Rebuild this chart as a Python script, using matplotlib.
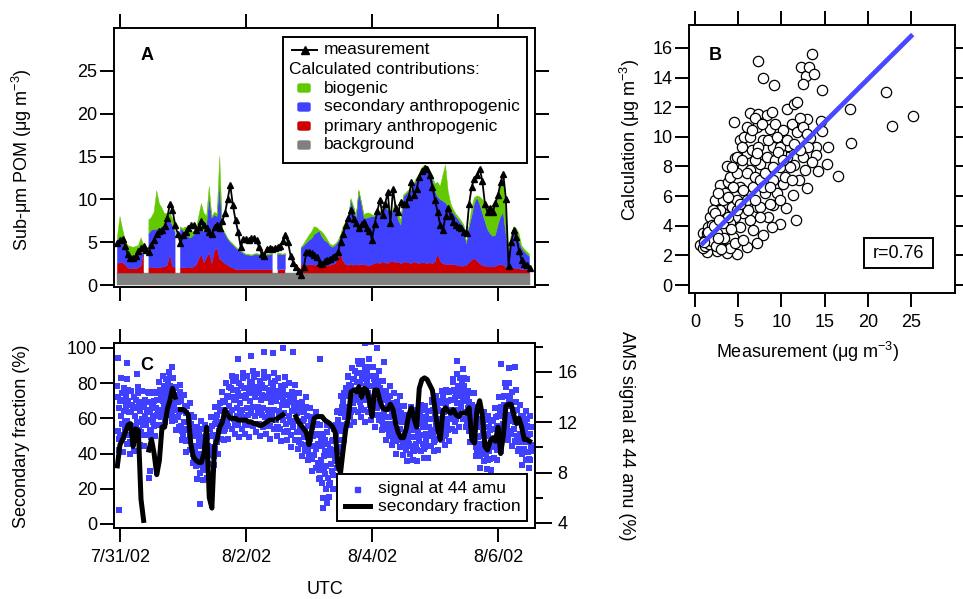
import numpy as np
import pandas as pd
import matplotlib
matplotlib.use("Agg")
import matplotlib.pyplot as plt
from matplotlib.patches import Rectangle, FancyBboxPatch
from matplotlib.lines import Line2D

plt.rcParams['font.family'] = ['Liberation Sans', 'DejaVu Sans']
plt.rcParams['mathtext.fontset'] = 'custom'
plt.rcParams['mathtext.rm'] = 'Liberation Sans'
plt.rcParams['mathtext.it'] = 'Liberation Sans:italic'
plt.rcParams['mathtext.default'] = 'regular'

nan = np.nan

# ---------------- data ----------------
# hourly series, first value at 7/30/02 23:00 UTC
hours = pd.date_range('2002-07-30 23:00', periods=158, freq='h')

measurement = [
    4.9, 5.2, 5.4, 4.5, 3.6, 3.1, 3.2, 3.4, 4.0, 4.3,
    4.6, 4.1, 3.9, 4.7, 5.3, 6.0, 6.3, 6.4, 6.9, 7.8,
    9.5, 8.8, 7.0, 6.0, 4.9, 5.8, 6.2, 6.6, 7.0, 7.0,
    6.4, 6.8, 7.5, 7.0, 6.6, 6.2, 5.9, 6.8, 7.0, 6.6,
    7.5, 8.4, 10.0, 11.7, 9.3, 7.6, 6.2, 4.4, 5.4, 5.4,
    5.3, 5.5, 5.5, 5.2, 4.4, 3.6, 3.4, 4.2, 4.3, 4.2,
    4.3, 4.4, 4.5, 5.1, 5.8, 5.0, 3.4, 2.6, 2.1, 1.6,
    1.2, 2.1, 3.8, 3.8, 3.7, 3.5, 3.3, 2.6, 2.5, 2.8,
    2.9, 3.0, 3.3, 3.4, 3.8, 5.0, 6.0, 7.0, 7.8, 8.8,
    7.7, 7.2, 6.6, 7.1, 7.4, 6.6, 6.3, 5.3, 7.1, 8.6,
    9.9, 8.2, 9.5, 10.8, 7.2, 11.2, 9.0, 8.5, 9.7, 9.4,
    9.5, 10.3, 12.0, 10.5, 11.2, 12.6, 13.3, 13.7, 13.5, 12.8,
    11.5, 9.9, 8.5, 7.0, 6.4, 8.0, 9.0, 8.0, 7.4, 7.0,
    6.8, 6.6, 6.2, 6.1, 9.5, 11.5, 12.4, 12.8, 13.6, 12.2,
    9.5, 8.5, 9.0, 8.5, 9.6, 10.5, 12.0, 13.0, 10.0, 2.2,
    5.0, 6.4, 5.6, 4.0, 2.9, 2.5, 2.3, 2.0,
]

background = [1.4] * 158

primary = [
    1.1, 1.2, 1.2, 1.0, 0.6, 0.5, 0.5, 0.5, 0.6, 0.8,
    2.3, nan, 0.6, 0.7, 0.6, 0.6, 0.6, 0.7, 0.7, 0.9,
    2.2, 0.8, 0.6, nan, 0.6, 0.6, 0.6, 0.7, 0.6, 0.7,
    0.9, 1.6, 2.2, 1.2, 1.8, 2.4, 1.1, 2.6, 2.9, 1.6,
    1.4, 1.1, 0.9, 0.7, 0.6, 0.4, 0.4, 0.4, 0.4, 0.4,
    0.4, 0.4, 0.4, 0.4, 0.4, 0.4, 0.4, 0.4, 0.4, 0.4,
    nan, 0.4, 0.4, 0.4, 0.4, nan, nan, nan, nan, nan,
    0.9, 1.0, 0.9, 1.0, 1.0, 0.9, 1.0, 0.9, 1.0, 1.0,
    0.9, 0.9, 1.0, 1.1, 1.6, 2.3, 1.4, 1.0, 0.9, 1.0,
    0.9, 1.0, 0.9, 1.0, 1.0, 0.9, 0.8, 1.0, 1.1, 1.2,
    1.1, 1.3, 1.2, 1.1, 1.3, 1.4, 1.2, 1.3, 1.1, 1.2,
    1.3, 1.2, 1.1, 1.3, 1.2, 1.1, 1.2, 1.2, 1.1, 1.2,
    1.1, 1.3, 2.3, 1.4, 1.1, 1.0, 1.0, 1.0, 1.0, 0.9,
    0.9, 0.8, 0.8, 0.9, 1.2, 1.5, 1.7, 1.4, 1.1, 0.9,
    0.8, 0.8, 0.7, 0.7, 0.8, 0.9, 1.0, 0.9, 0.7, 0.6,
    0.6, 0.6, 0.5, 0.5, 0.4, 0.4, 0.4, 0.4,
]

secondary = [
    2.8, 2.8, 2.4, 1.9, 1.5, 1.4, 1.5, 1.6, 1.6, 1.5,
    0.2, nan, 4.0, 4.3, 4.5, 4.5, 4.6, 4.7, 4.9, 5.3,
    3.9, 4.8, 4.2, nan, 4.6, 4.4, 4.0, 3.5, 3.5, 3.7,
    3.9, 3.3, 2.9, 3.6, 3.8, 6.5, 5.3, 4.2, 3.7, 8.9,
    3.7, 3.5, 3.1, 2.9, 2.7, 2.6, 2.3, 2.1, 1.9, 1.7,
    1.7, 1.6, 1.7, 1.8, 1.7, 1.7, 1.6, 1.7, 1.7, 1.8,
    nan, 1.8, 1.8, 1.7, 1.8, nan, nan, nan, nan, nan,
    2.0, 2.2, 2.6, 2.8, 3.0, 3.6, 3.7, 4.0, 3.2, 2.8,
    2.7, 2.3, 2.0, 2.1, 2.0, 1.9, 3.8, 4.8, 5.3, 7.5,
    6.7, 5.5, 8.6, 7.1, 5.4, 5.5, 5.7, 5.6, 5.5, 5.6,
    5.9, 6.1, 6.6, 6.3, 5.7, 5.8, 7.0, 4.9, 4.5, 7.7,
    7.9, 8.3, 8.6, 9.0, 9.7, 10.3, 10.9, 11.2, 11.1, 10.4,
    10.0, 8.3, 6.6, 7.2, 7.3, 7.2, 6.8, 6.4, 6.0, 5.7,
    5.3, 5.0, 4.6, 2.5, 4.2, 5.1, 6.4, 7.4, 7.0, 6.2,
    5.3, 4.3, 3.9, 3.6, 3.6, 4.7, 5.6, 6.2, 3.9, 1.8,
    3.2, 4.2, 4.1, 3.3, 2.5, 2.1, 1.8, 1.5,
]

biogenic = [
    0.2, 2.6, 1.5, 1.0, 1.1, 1.2, 1.0, 1.0, 1.0, 1.8,
    0.8, nan, 1.6, 1.5, 2.0, 4.5, 2.9, 2.2, 1.3, 0.8,
    0.9, 0.8, 0.8, nan, 0.2, 0.2, 0.8, 1.0, 0.9, 0.4,
    0.2, 1.7, 3.0, 2.2, 1.0, 1.2, 0.2, 0.3, 0.3, 3.1,
    0.1, 0.1, 0.1, 0.1, 0.1, 0.1, 0.1, 0.1, 0.1, 0.1,
    0.1, 0.1, 0.1, 0.1, 0.1, 0.1, 0.1, 0.1, 0.1, 0.1,
    nan, 0.1, 0.1, 0.1, 0.1, nan, nan, nan, nan, nan,
    0.1, 0.2, 0.4, 0.6, 0.8, 0.9, 0.6, 0.1, 0.6, 0.6,
    0.3, 0.2, 0.2, 0.2, 0.1, 0.2, 0.2, 0.2, 0.2, 0.2,
    0.2, 0.2, 0.2, 0.2, 0.4, 0.6, 0.5, 0.2, 0.1, 0.1,
    0.1, 0.1, 0.2, 0.2, 0.2, 0.1, 0.1, 0.6, 0.6, 0.2,
    0.2, 0.2, 0.2, 0.2, 0.2, 0.2, 0.2, 0.2, 0.2, 0.3,
    0.3, 0.8, 1.7, 1.5, 3.0, 4.4, 1.8, 0.7, 0.4, 0.3,
    0.3, 0.3, 0.2, 0.1, 0.2, 1.0, 0.7, 0.2, 0.8, 1.5,
    2.1, 2.8, 3.1, 3.5, 3.8, 3.5, 3.8, 4.0, 2.5, 0.2,
    0.6, 0.6, 0.6, 0.8, 0.3, 0.3, 0.3, 0.3,
]

# secondary fraction of calculated POM (%), hourly
sec_fraction = [
    33, 45, 48, 52, 56, 57, 44, 54, 53, 14,
    2, nan, 42, 48, 40, 28, 36, 55, 55, 65,
    70, 77, 72, nan, 65, 65, 64, 62, 45, 38,
    36, 35, 35, 40, 55, 15, 9, 44, 48, 55,
    58, 65, 62, 60, 60, 60, 59, 59, 59, 59,
    58, 58, 57, 57, 56, 56, 57, 58, 59, 59,
    nan, 60, 61, 62, nan, nan, nan, nan, 61, 58,
    56, 54, 52, 45, 53, 60, 61, 61, 61, 59,
    58, 57, 55, 52, 33, 29, 42, 54, 60, 75,
    76, 75, 78, 72, 77, 76, 70, 61, 76, 76,
    70, 66, 65, 65, 68, 65, 57, 52, 49, 49,
    54, 62, 66, 60, 55, 77, 82, 83, 82, 79,
    76, 65, 54, 48, 64, 66, 64, 63, 65, 62,
    61, 63, 63, 63, 66, 48, 46, 65, 70, 62,
    44, 42, 47, 49, 47, 55, 40, 50, 67, 68,
    68, 62, 57, 60, 55, 48, 48, 47,
]

# AMS signal at m/z 44 (% of organic signal), 15-min samples from 7/30/02 23:00
signal44 = [
    14.9, 11.3, 13.1, 9.8, 11.0, 15.5, 12.5, 14.3, 13.8, 9.6, 14.7, 12.0,
    11.5, 14.2, 10.3, 15.4, 14.6, 11.0, 12.8, 9.5, 10.3, 14.5, 11.7, 13.4,
    13.2, 9.7, 14.0, 11.7, 11.6, 13.8, 10.6, 14.8, 14.3, 11.4, 12.9, 10.2,
    11.2, 14.5, 12.3, 13.6, 13.2, 10.1, 13.8, 11.9, 11.8, 13.6, 11.0, 14.4,
    14.3, 11.3, 12.8, 10.1, 11.4, 14.4, 12.4, 13.6, 13.7, 10.9, 14.3, 12.5,
    12.6, 14.4, 11.8, 15.2, 15.2, 12.8, 14.0, 11.8, 12.7, 15.7, 13.7, 14.9,
    14.8, 12.0, 15.4, 13.6, 13.4, 15.2, 12.6, 16.0, 15.5, 13.1, 14.3, 12.1,
    12.5, 15.5, 13.5, 14.7, 14.2, 11.4, 14.8, 13.0, 12.4, 14.2, 11.6, 15.0,
    14.4, 11.7, 13.0, 10.6, 10.9, 14.2, 12.0, 13.3, 12.7, 9.6, 13.3, 11.4,
    10.6, 12.6, 9.8, 13.5, 12.6, 9.9, 11.2, 8.8, 8.9, 12.4, 10.1, 11.5,
    10.9, 7.5, 11.6, 9.4, 9.0, 11.1, 8.0, 12.1, 11.5, 8.6, 10.1, 7.4,
    8.3, 11.8, 9.5, 10.9, 10.8, 7.6, 11.5, 9.4, 9.5, 11.5, 8.7, 12.4,
    12.4, 9.7, 11.0, 8.6, 9.9, 13.2, 11.0, 12.3, 12.6, 9.5, 13.2, 11.3,
    11.5, 13.5, 10.7, 14.4, 14.4, 11.7, 13.0, 10.6, 11.5, 15.1, 12.7, 14.1,
    14.1, 10.7, 14.8, 12.6, 12.5, 14.7, 11.5, 15.7, 15.3, 12.3, 13.8, 11.1,
    11.8, 15.6, 13.1, 14.6, 14.3, 10.8, 15.1, 12.8, 12.5, 14.9, 11.5, 15.9,
    15.5, 12.4, 13.9, 11.1, 11.8, 15.7, 13.1, 14.7, 14.4, 10.8, 15.2, 12.9,
    12.7, 15.1, 11.7, 16.1, 15.6, 12.5, 14.0, 11.2, 11.9, 15.8, 13.2, 14.8,
    14.5, 10.9, 15.3, 13.0, 12.6, 15.0, 11.6, 16.0, 15.5, 12.4, 13.9, 11.1,
    11.7, 15.6, 13.0, 14.6, 14.3, 10.7, 15.1, 12.8, 12.5, 14.9, 11.5, 15.9,
    15.3, 12.2, 13.7, 10.9, 11.6, 15.5, 12.9, 14.5, 14.1, 10.5, 14.9, 12.6,
    12.2, 14.6, 11.2, 15.6, 15.0, 11.9, 13.4, 10.6, 11.2, 15.1, 12.5, 14.1,
    13.6, 10.0, 14.4, 12.1, 11.6, 14.0, 10.6, 15.0, 14.3, 11.2, 12.7, 9.9,
    10.4, 14.3, 11.7, 13.3, 12.8, 9.3, 13.6, 11.3, 10.8, 13.0, 9.8, 14.0,
    13.2, 10.2, 11.7, 9.0, 9.4, 13.1, 10.7, 12.2, 11.6, 8.1, 12.4, 10.1,
    9.4, 11.8, 8.4, 12.8, 11.9, 8.8, 10.3, 7.5, 7.6, 11.8, 9.0, 10.7,
    10.2, 6.0, 11.1, 8.4, 7.9, 10.6, 6.7, 11.8, 11.2, 7.6, 9.4, 6.1,
    7.2, 11.7, 8.7, 10.5, 10.6, 6.7, 11.5, 8.9, 9.4, 11.8, 8.4, 12.8,
    12.9, 10.0, 11.5, 8.8, 10.6, 14.1, 11.8, 13.2, 13.7, 10.6, 14.3, 12.4,
    12.7, 14.7, 11.9, 15.6, 15.7, 13.0, 14.4, 11.8, 12.8, 16.3, 14.0, 15.4,
    15.4, 12.0, 16.1, 13.9, 13.8, 15.9, 12.8, 16.9, 16.6, 13.6, 15.1, 12.4,
    13.0, 16.9, 14.3, 15.9, 15.6, 12.0, 16.4, 14.1, 13.8, 16.0, 12.8, 17.0,
    16.4, 13.4, 14.9, 12.2, 12.8, 16.4, 14.0, 15.4, 15.0, 11.6, 15.7, 13.5,
    13.1, 15.2, 12.2, 16.1, 15.3, 12.6, 14.0, 11.4, 11.8, 15.3, 13.0, 14.4,
    13.8, 10.6, 14.5, 12.4, 11.9, 14.0, 11.0, 14.9, 14.1, 11.4, 12.8, 10.2,
    10.7, 14.3, 11.9, 13.3, 12.9, 9.5, 13.6, 11.4, 11.0, 13.1, 10.0, 14.1,
    13.3, 10.6, 12.0, 9.4, 10.0, 13.3, 11.1, 12.4, 12.0, 8.9, 12.6, 10.7,
    10.3, 12.3, 9.5, 13.2, 12.8, 10.1, 11.4, 9.0, 9.7, 13.0, 10.8, 12.1,
    12.0, 8.9, 12.6, 10.7, 10.5, 12.5, 9.7, 13.4, 13.0, 10.3, 11.6, 9.2,
    10.0, 13.3, 11.1, 12.4, 12.3, 9.2, 12.9, 11.0, 10.9, 12.9, 10.1, 13.8,
    13.6, 10.9, 12.3, 9.7, 10.6, 14.1, 11.8, 13.2, 13.0, 9.8, 13.7, 11.6,
    11.5, 13.6, 10.6, 14.5, 14.1, 11.4, 12.8, 10.2, 11.1, 14.6, 12.3, 13.7,
    13.7, 10.5, 14.4, 12.3, 12.4, 14.5, 11.5, 15.4, 15.2, 12.5, 13.9, 11.3,
    12.3, 15.8, 13.5, 14.9, 14.8, 11.6, 15.5, 13.4, 13.2, 15.3, 12.3, 16.2,
    15.5, 12.8, 14.2, 11.6, 11.9, 15.4, 13.1, 14.5, 13.6, 10.4, 14.3, 12.2,
    11.3, 13.4, 10.4, 14.3, 13.2, 10.5, 11.9, 9.3, 9.6, 13.1, 10.8, 12.2,
    11.6, 8.4, 12.3, 10.2, 9.8, 11.9, 8.9, 12.8, 12.2, 9.5, 10.9, 8.3,
    9.0, 12.5, 10.2, 11.6, 11.4, 8.2, 12.1, 10.0, 10.1, 12.2, 9.2, 13.1,
    13.1, 10.2, 11.7, 9.0, 10.2, 14.0, 11.5, 12.9, 13.2, 9.7, 14.0, 11.7,
    11.9, 14.1, 10.8, 15.1, 14.8, 11.8, 13.3, 10.6, 11.3, 15.1, 12.6, 14.1,
    13.6, 10.1, 14.4, 12.1, 11.5, 13.6, 10.5, 14.6, 13.6, 10.9, 12.3, 9.7,
    9.9, 13.4, 11.1, 12.5, 11.8, 8.6, 12.5, 10.4, 9.9, 12.0, 9.0, 12.9,
    12.3, 9.6, 11.0, 8.4, 9.0, 12.5, 10.2, 11.6,
]
signal_times = pd.date_range('2002-07-30 23:00', periods=len(signal44), freq='15min')

# interleaved m/z 44 samples, 30-min spacing starting 7/30/02 23:07:30
signal44_mid = [
    14.0, 10.7, 13.7, 11.9, 10.8, 12.9, 13.3, 12.1, 13.7, 10.4, 12.8, 11.2,
    10.7, 12.5, 13.1, 12.0, 13.6, 11.0, 13.2, 11.8, 11.0, 12.5, 13.0, 12.2,
    13.6, 10.8, 13.2, 12.0, 11.7, 13.1, 13.8, 13.0, 14.6, 12.4, 14.5, 13.3,
    12.8, 14.2, 14.6, 13.8, 14.9, 12.7, 14.3, 13.1, 12.2, 13.6, 13.6, 12.8,
    13.7, 11.3, 12.9, 11.5, 10.5, 12.0, 12.0, 11.1, 11.9, 9.5, 11.0, 9.6,
    8.5, 10.1, 10.4, 9.5, 10.8, 8.2, 10.4, 9.0, 8.5, 10.1, 10.9, 10.0,
    11.7, 9.3, 11.9, 10.5, 10.4, 11.9, 12.9, 12.0, 13.7, 11.3, 13.6, 12.2,
    11.7, 13.3, 14.0, 13.0, 14.6, 11.8, 14.0, 12.5, 11.8, 13.5, 14.1, 13.0,
    14.7, 11.8, 14.2, 12.6, 11.8, 13.7, 14.3, 13.2, 14.8, 11.9, 14.3, 12.7,
    11.9, 13.8, 14.2, 13.1, 14.7, 11.8, 14.1, 12.5, 11.7, 13.6, 14.1, 13.0,
    14.5, 11.6, 14.0, 12.4, 11.5, 13.4, 13.8, 12.7, 14.2, 11.3, 13.6, 12.0,
    11.0, 12.9, 13.2, 12.1, 13.5, 10.6, 12.8, 11.2, 10.3, 12.1, 12.3, 11.3,
    12.5, 9.7, 11.7, 10.1, 9.1, 10.9, 11.0, 9.9, 11.1, 8.2, 10.1, 8.5,
    7.2, 9.3, 9.7, 8.5, 10.3, 7.0, 9.9, 8.1, 7.8, 9.8, 11.0, 9.9,
    12.2, 9.6, 12.7, 11.3, 11.5, 13.0, 14.1, 13.2, 15.0, 12.5, 14.9, 13.5,
    13.0, 14.6, 15.2, 14.3, 15.9, 13.1, 15.4, 13.8, 13.0, 14.9, 15.3, 14.3,
    15.7, 12.9, 14.9, 13.5, 12.6, 14.2, 14.5, 13.6, 14.7, 12.1, 13.9, 12.5,
    11.5, 13.1, 13.3, 12.4, 13.5, 10.9, 12.8, 11.4, 10.5, 12.1, 12.4, 11.5,
    12.7, 10.1, 12.0, 10.6, 9.8, 11.3, 11.7, 10.8, 12.1, 9.7, 11.7, 10.3,
    9.8, 11.3, 11.9, 11.0, 12.3, 9.9, 12.0, 10.6, 10.1, 11.6, 12.3, 11.4,
    13.0, 10.4, 12.7, 11.3, 10.7, 12.3, 12.9, 12.0, 13.5, 10.9, 13.2, 11.8,
    11.4, 13.0, 13.8, 12.9, 14.6, 12.0, 14.4, 13.0, 12.5, 14.1, 14.6, 13.7,
    14.9, 12.3, 14.0, 12.6, 11.3, 12.9, 12.7, 11.8, 12.6, 10.0, 11.7, 10.3,
    9.3, 10.9, 11.2, 10.3, 11.6, 9.0, 11.1, 9.7, 9.1, 10.7, 11.5, 10.6,
    12.4, 9.8, 12.5, 10.9, 10.7, 12.5, 13.4, 12.4, 14.1, 11.3, 13.6, 12.1,
    11.1, 12.9, 12.9, 12.0, 13.0, 10.4, 12.0, 10.6, 9.5, 11.1, 11.3, 10.4,
    11.7, 9.1, 11.1, 9.7,
]
signal_mid_times = pd.date_range('2002-07-30 23:07:30', periods=len(signal44_mid), freq='30min')

# isolated m/z 44 samples (hours after 7/31/02 00:00, value)
extra_hours = [-0.6, -0.4, 2.5, 6.5, 11.2, 11.6, 20.0, 30.5, 45.0, 50.0, 54.8,
               58.2, 62.0, 66.0, 76.0, 77.5, 78.8, 93.2, 95.5, 98.0, 100.5,
               128.5, 145.0, 148.2, 150.5]
extra_vals = [17.1, 5.0, 16.7, 15.8, 7.6, 8.1, 16.4, 5.5, 17.0, 17.3, 17.6,
              17.5, 17.9, 17.6, 17.0, 5.2, 5.6, 18.3, 18.4, 17.9, 16.8,
              16.9, 16.6, 16.3, 16.4]
extra_times = pd.Timestamp('2002-07-31') + pd.to_timedelta(extra_hours, unit='h')

# measured vs calculated POM (ug m-3)
b_points = [
    (4.56, 10.97), (7.34, 15.1), (7.92, 14.0), (9.19, 13.53), (12.24, 14.72),
    (12.82, 14.09), (13.2, 14.72), (13.5, 15.57), (13.75, 14.22), (12.5, 13.55),
    (14.67, 13.19), (10.6, 11.9), (11.4, 12.25), (11.85, 12.34), (17.9, 11.87),
    (18.0, 9.6), (16.5, 7.35), (15.3, 8.2), (15.37, 9.33), (22.1, 13.0),
    (22.86, 10.72), (25.2, 11.39), (14.2, 7.69), (12.93, 6.58), (11.66, 4.38),
    (10.5, 5.17), (11.3, 6.07), (9.88, 4.09), (8.96, 3.93), (14.67, 10.4),
    (14.56, 11.1), (12.93, 11.2), (11.47, 10.79), (10.8, 9.39), (14.0, 9.3),
    (14.0, 8.76), (13.3, 9.9), (12.5, 8.65), (11.5, 8.09), (12.0, 7.08),
    (10.2, 6.85), (9.07, 5.39), (7.92, 3.37), (7.14, 2.81), (5.98, 2.54),
    (4.83, 2.09), (3.67, 2.13), (2.5, 2.31), (1.35, 2.25), (0.77, 2.63),
    (0.97, 3.48), (1.54, 3.93), (2.32, 5.73), (2.9, 6.74), (3.86, 6.97),
    (3.75, 8.04), (4.63, 8.6), (5.2, 9.78), (5.68, 10.0), (6.37, 11.62),
    (7.34, 11.53), (8.3, 11.46), (8.69, 10.56), (9.27, 10.9), (10.23, 10.45),
    (11.2, 10.9), (12.16, 11.24), (9.07, 9.33), (7.92, 9.78), (7.14, 10.67),
    (6.37, 10.0), (5.6, 7.98), (6.37, 7.75), (5.2, 6.63), (4.25, 5.28),
    (3.28, 4.83), (2.51, 4.38), (1.93, 3.48), (3.67, 3.48), (5.2, 3.93),
    (6.37, 4.38), (7.14, 5.28), (8.1, 6.18), (9.07, 7.08), (9.85, 7.98),
    (10.6, 8.65), (7.53, 8.2), (8.3, 8.65), (9.27, 8.43), (6.76, 6.63),
    (5.98, 5.73), (4.83, 5.73), (4.44, 6.63), (7.53, 5.28), (8.5, 4.61),
    (6.76, 3.71), (4.44, 3.26), (3.09, 3.03), (2.12, 2.81), (1.35, 2.92),
    (1.16, 3.03), (1.74, 3.26), (2.7, 3.71), (2.9, 5.06), (3.47, 6.18),
    (4.05, 7.3), (4.83, 7.53), (5.98, 8.88), (6.56, 9.1), (6.95, 8.43),
    (5.98, 10.67), (5.4, 9.33), (4.83, 8.65), (7.34, 9.33), (8.5, 9.78),
    (9.46, 10.0), (10.0, 8.88), (11.0, 7.98), (10.4, 7.3), (9.46, 6.18),
    (8.69, 5.5), (7.53, 4.61), (5.6, 4.83), (4.63, 4.6), (4.05, 4.16),
    (3.28, 3.71), (2.5, 3.48), (1.74, 4.6), (2.12, 5.06), (3.28, 5.73),
    (3.86, 5.96), (5.6, 6.4), (5.98, 7.53), (6.95, 7.3), (7.53, 7.08),
    (8.1, 7.53), (9.07, 7.98), (9.85, 9.33), (10.6, 9.78), (11.4, 9.55),
    (11.8, 10.3), (12.55, 10.67), (12.93, 10.22), (13.1, 9.33), (12.16, 9.1),
    (13.5, 8.3), (12.74, 7.75), (0.58, 2.7), (0.97, 2.47), (1.35, 3.48),
    (1.93, 4.04), (2.9, 2.58), (4.05, 2.47), (4.63, 2.81), (5.6, 3.03),
    (3.28, 4.16), (3.86, 4.61), (2.7, 6.18), (2.32, 4.83), (4.83, 5.06),
    (6.18, 5.06), (5.2, 5.5), (6.95, 5.73), (7.92, 6.63), (8.69, 6.63),
    (7.14, 8.88), (5.4, 8.43), (4.25, 7.98), (6.56, 10.45), (6.95, 11.24),
    (7.72, 10.9), (8.88, 11.68), (9.65, 9.0), (10.2, 8.43), (11.2, 7.08),
    (9.85, 5.73), (1.2, 2.6), (1.6, 2.8), (2.0, 3.0), (2.4, 2.6), (1.0, 2.9),
    (1.5, 3.6), (2.2, 4.0), (2.8, 4.4), (3.4, 3.2), (4.2, 3.8), (3.0, 2.4),
    (2.6, 3.2),
]
meas_b = [p[0] for p in b_points]
calc_b = [p[1] for p in b_points]

fit_slope, fit_intercept = 0.58, 2.29
fit_range = [0.7, 25.2]
r_value = 0.76

date_ticks = pd.to_datetime(['2002-07-31', '2002-08-02', '2002-08-04', '2002-08-06'])
date_labels = ['7/31/02', '8/2/02', '8/4/02', '8/6/02']
t_start = pd.Timestamp('2002-07-30 21:43')
t_end = pd.Timestamp('2002-08-06 14:05')

# ---------------- styling ----------------
C_GREEN = '#62c800'
C_BLUE = '#4040ff'
C_RED = '#cc0000'
C_GRAY = '#808080'
LW = 1.4
FS = 13

W, H = 963, 599
fig = plt.figure(figsize=(W / 100, H / 100), dpi=100)


def rect(l, t, r, b):
    return [l / W, 1 - b / H, (r - l) / W, (b - t) / H]


def fx(x):
    return x / W


def fy(y):
    return 1 - y / H


def frame(ax, length=10):
    for s in ax.spines.values():
        s.set_linewidth(LW)
    ax.tick_params(which='major', direction='out', length=length, width=LW,
                   labelsize=FS, pad=2, colors='black')


# ---------------- panel A ----------------
axA = fig.add_axes(rect(114, 28, 535, 287))
axA.stackplot(hours, background, primary, secondary, biogenic,
              colors=[C_GRAY, C_RED, C_BLUE, C_GREEN], linewidth=0.3,
              edgecolor='face')
axA.plot(hours, measurement, '-^', color='black', lw=1.3, ms=5, mec='black', mfc='black')
axA.set_xlim(t_start, t_end)
axA.set_ylim(-0.23, 30.0)
axA.set_yticks([0, 5, 10, 15, 20, 25])
axA.set_xticks(date_ticks)
frame(axA)
axA.tick_params(top=True, right=True, labelbottom=False, labeltop=False, labelright=False)

# ---------------- panel B ----------------
axB = fig.add_axes(rect(689, 25, 955, 293))
axB.scatter(meas_b, calc_b, s=55, facecolors='white', edgecolors='black', linewidths=0.9, zorder=2)
fx_line = np.array(fit_range)
axB.plot(fx_line, fit_slope * fx_line + fit_intercept, color='#4848ff', lw=3.4, zorder=3,
         solid_capstyle='butt')
axB.set_xlim(-0.7, 30.1)
axB.set_ylim(-0.54, 17.55)
axB.set_xticks([0, 5, 10, 15, 20, 25])
axB.set_yticks(range(0, 17, 2))
frame(axB)
axB.tick_params(top=True, right=True, labeltop=False, labelright=False)
axB.tick_params(axis='x', pad=5)

# ---------------- panel C ----------------
axC = fig.add_axes(rect(114, 343, 535, 528))
axC2 = axC.twinx()
for tt, vv in [(signal_times, signal44), (signal_mid_times, signal44_mid),
               (extra_times, extra_vals)]:
    axC2.scatter(tt, vv, marker='s', s=17, color=C_BLUE, linewidths=0)
axC.plot(hours, sec_fraction, color='black', lw=3.6, solid_joinstyle='round')
axC.set_zorder(axC2.get_zorder() + 1)
axC.patch.set_visible(False)
axC.set_xlim(t_start, t_end)
axC.set_ylim(-2.3, 102.8)
axC.set_yticks([0, 20, 40, 60, 80, 100])
axC.set_xticks(date_ticks)
axC.set_xticklabels(date_labels)
axC2.set_ylim(3.6, 18.3)
axC2.set_yticks([4, 8, 12, 16])
axC2.set_yticks([6, 10, 14, 18], minor=True)
frame(axC)
frame(axC2, length=12)
axC2.tick_params(which='minor', direction='out', length=6, width=LW)
axC.tick_params(top=True, labeltop=False)
axC.tick_params(axis='x', pad=5)
axC2.tick_params(axis='y', pad=4)

# ---------------- legends, labels ----------------
def add_box(l, t, r, b, z=5):
    fig.add_artist(Rectangle((fx(l), fy(b)), (r - l) / W, (b - t) / H,
                             transform=fig.transFigure, facecolor='white',
                             edgecolor='black', linewidth=LW, zorder=z))


def ftext(x, y, s, **kw):
    kw.setdefault('fontsize', FS)
    kw.setdefault('va', 'center')
    kw.setdefault('zorder', 6)
    fig.text(fx(x), fy(y), s, **kw)


# legend A
add_box(283, 37, 527, 163)
fig.add_artist(Line2D([fx(292), fx(317)], [fy(50), fy(50)], transform=fig.transFigure,
                      color='black', lw=1.4, zorder=6))
fig.add_artist(Line2D([fx(305)], [fy(50)], transform=fig.transFigure, marker='^',
                      ms=6, color='black', zorder=6))
ftext(324, 50, 'measurement', fontsize=12.5)
ftext(289, 69, 'Calculated contributions:', fontsize=12.5)
for yc, col, name in [(88, C_GREEN, 'biogenic'),
                      (107, C_BLUE, 'secondary anthropogenic'),
                      (126, C_RED, 'primary anthropogenic'),
                      (145, C_GRAY, 'background')]:
    fig.add_artist(FancyBboxPatch((fx(298), fy(yc + 4)), 12 / W, 8 / H,
                                  boxstyle='round,pad=0,rounding_size=0.002',
                                  transform=fig.transFigure, facecolor=col,
                                  edgecolor=col, linewidth=1, zorder=6))
    ftext(324, yc, name, fontsize=12.5)

# legend C
add_box(337, 474, 527, 521)
fig.add_artist(Line2D([fx(357)], [fy(489)], transform=fig.transFigure, marker='s',
                      ms=3.6, color=C_BLUE, lw=0, zorder=6))
fig.add_artist(Line2D([fx(345), fx(370)], [fy(506), fy(506)], transform=fig.transFigure,
                      color='black', lw=3.6, zorder=6))
ftext(378, 489, 'signal at 44 amu', fontsize=12.5)
ftext(378, 506, 'secondary fraction', fontsize=12.5)

# r box in panel B
add_box(864, 238, 933, 268)
ftext(898, 253, 'r=%.2f' % r_value, ha='center')

# panel letters
ftext(147, 55, 'A', fontweight='bold', ha='center')
ftext(715, 55, 'B', fontweight='bold', ha='center')
ftext(147, 366, 'C', fontweight='bold', ha='center')

# axis titles
ftext(22, 160, 'Sub-μm POM (μg m$^{-3}$)', rotation=90, ha='center')
ftext(630, 140, 'Calculation (μg m$^{-3}$)', rotation=90, ha='center')
ftext(808, 352, 'Measurement (μg m$^{-3}$)', ha='center')
ftext(22, 436, 'Secondary fraction (%)', rotation=90, ha='center')
ftext(627, 436, 'AMS signal at 44 amu (%)', rotation=-90, ha='center')
ftext(325, 590, 'UTC', ha='center')

fig.savefig('out.png', dpi=100)
